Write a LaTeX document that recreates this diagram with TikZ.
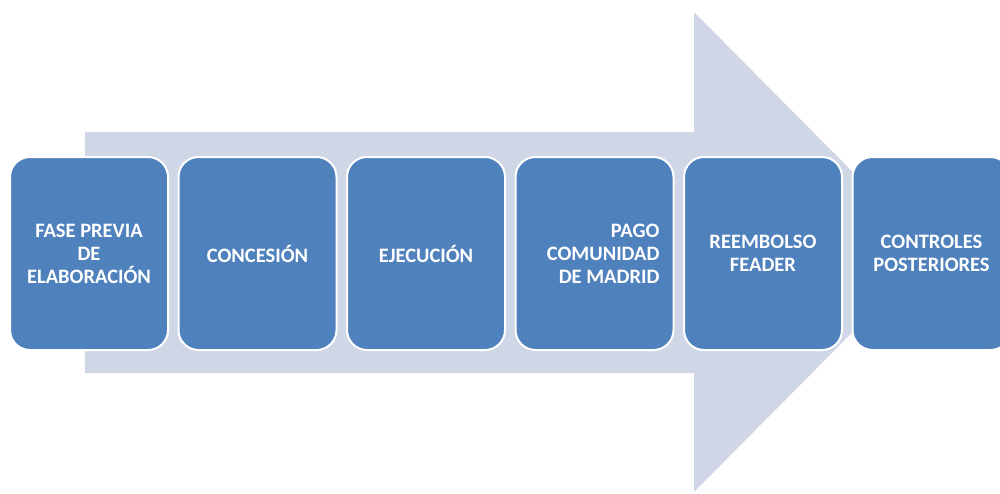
\documentclass[tikz,border=0pt]{standalone}
\usepackage{fontspec}
\setmainfont{Carlito}
\usepackage{tikz}
\usetikzlibrary{positioning}
\definecolor{phaseblue}{HTML}{4F81BD}
\definecolor{arrowgrey}{HTML}{CFD7E7}
\tikzstyle{phase}=[rectangle,rounded corners=20pt,draw=white,line width=2pt,fill=phaseblue,text=white,inner sep=0pt,minimum width=158pt,minimum height=193pt,text width=134pt,align=flush center,font=\bfseries\fontsize{20.5}{23}\selectfont]
\tikzstyle{phaseright}=[phase,align=flush right,text width=130pt]
\tikzstyle{bigarrow}=[fill=arrowgrey,draw=none]

\begin{document}
\begin{tikzpicture}[x=1pt,y=-1pt,node distance=168.5pt]
          \useasboundingbox (0,0) rectangle (1000,493);
          \clip (0,0) rectangle (1000,493);
          \fill[bigarrow] (85,132) -- (694,132) -- (694,12) -- (932,252) -- (694,492) -- (694,373) -- (85,373) -- cycle;
          \node[phase] at (89,253.5) (fase) {FASE PREVIA\\DE\\ELABORACIÓN};
          \node[phase] (concesion) [right of=fase] {CONCESIÓN};
          \node[phase] (ejecucion) [right of=concesion] {EJECUCIÓN};
          \node[phaseright] (pago) [right of=ejecucion] {PAGO\\COMUNIDAD\\DE MADRID};
          \node[phase] (reembolso) [right of=pago] {REEMBOLSO\\FEADER};
          \node[phase] (controles) [right of=reembolso] {CONTROLES\\POSTERIORES};
        \end{tikzpicture}
\end{document}
